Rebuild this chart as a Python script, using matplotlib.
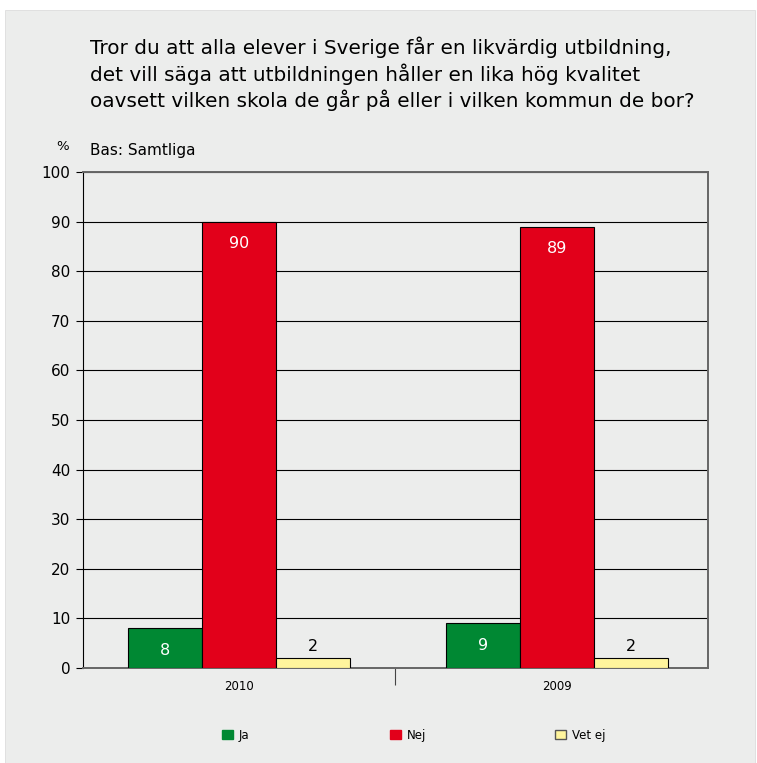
import numpy as np
import matplotlib
matplotlib.use("Agg")
from matplotlib import pyplot as plt
from matplotlib.patches import Rectangle, Patch

years = ["2010", "2009"]
series = ["Ja", "Nej", "Vet ej"]
ja = [8, 9]
nej = [90, 89]
vet_ej = [2, 2]

title = ("Tror du att alla elever i Sverige får en likvärdig utbildning,\n"
         "det vill säga att utbildningen håller en lika hög kvalitet\n"
         "oavsett vilken skola de går på eller i vilken kommun de bor?")

GREEN = "#008833"
RED = "#E2001A"
YELLOW = "#FFF59D"
BG = "#ECEDEC"

plt.rcParams["font.family"] = ["DejaVu Sans"]

fig = plt.figure(figsize=(7.57, 7.63), dpi=100)
fig.patch.set_facecolor("white")
fig.patches.append(Rectangle((5 / 757, 0), 750 / 757, 753 / 763,
                             transform=fig.transFigure, facecolor=BG,
                             edgecolor="#DDDDDD", lw=0.6, zorder=-10))

ax = fig.add_axes([83 / 757, 95 / 763, 625 / 757, 496 / 763])
ax.set_facecolor(BG)

x = np.arange(len(years))
w = 0.233
bars_ja = ax.bar(x - w, ja, w, color=GREEN, edgecolor="black", lw=0.8, zorder=3)
bars_nej = ax.bar(x, nej, w, color=RED, edgecolor="black", lw=0.8, zorder=3)
bars_vet = ax.bar(x + w, vet_ej, w, color=YELLOW, edgecolor="black", lw=0.8, zorder=3)

for bars in (bars_ja, bars_nej):
    for b in bars:
        ax.annotate(f"{b.get_height():.0f}", (b.get_x() + b.get_width() / 2, b.get_height()),
                    xytext=(0, -16), textcoords="offset points", ha="center", va="center",
                    color="white", fontsize=11.5, zorder=4)
for b in bars_vet:
    ax.annotate(f"{b.get_height():.0f}", (b.get_x() + b.get_width() / 2, b.get_height()),
                xytext=(0, 8), textcoords="offset points", ha="center", va="center",
                color="black", fontsize=11.5, zorder=4)

ax.set_xlim(-0.49, 1.475)
ax.set_ylim(0, 100)
ax.set_yticks(range(0, 101, 10))
ax.yaxis.grid(True, color="black", lw=0.8, zorder=0)
ax.tick_params(axis="y", labelsize=11, length=5, width=0.8, pad=4)
ax.set_xticks(x)
ax.set_xticklabels(years, fontsize=8.5)
ax.tick_params(axis="x", length=0, pad=9)
ax.set_xticks([0.49], minor=True)
ax.tick_params(axis="x", which="minor", length=12, width=0.8, color="#444444")

for side in ("top", "right", "bottom"):
    ax.spines[side].set_color("#666666")
    ax.spines[side].set_linewidth(1.4)
ax.spines["left"].set_color("black")
ax.spines["left"].set_linewidth(0.8)

fig.text(90 / 757, 1 - 37 / 763, title, ha="left", va="top", fontsize=14.4,
         linespacing=1.28)
fig.text(63 / 757, 1 - 146 / 763, "%", ha="center", va="center", fontsize=9.5)
fig.text(90 / 757, 1 - 150 / 763, "Bas: Samtliga", ha="left", va="center", fontsize=11)

handles = [Patch(facecolor=GREEN, edgecolor=GREEN),
           Patch(facecolor=RED, edgecolor=RED),
           Patch(facecolor=YELLOW, edgecolor="#555555")]
legend_x = [222, 390, 555]
for h, lab, lx in zip(handles, series, legend_x):
    leg = fig.legend([h], [lab], loc="center left", bbox_to_anchor=(lx / 757, 1 - 735 / 763),
                     frameon=False, fontsize=8.5, handlelength=0.9, handleheight=0.9,
                     handletextpad=0.5, borderpad=0, borderaxespad=0)

fig.savefig("out.png", dpi=100, facecolor="white")
